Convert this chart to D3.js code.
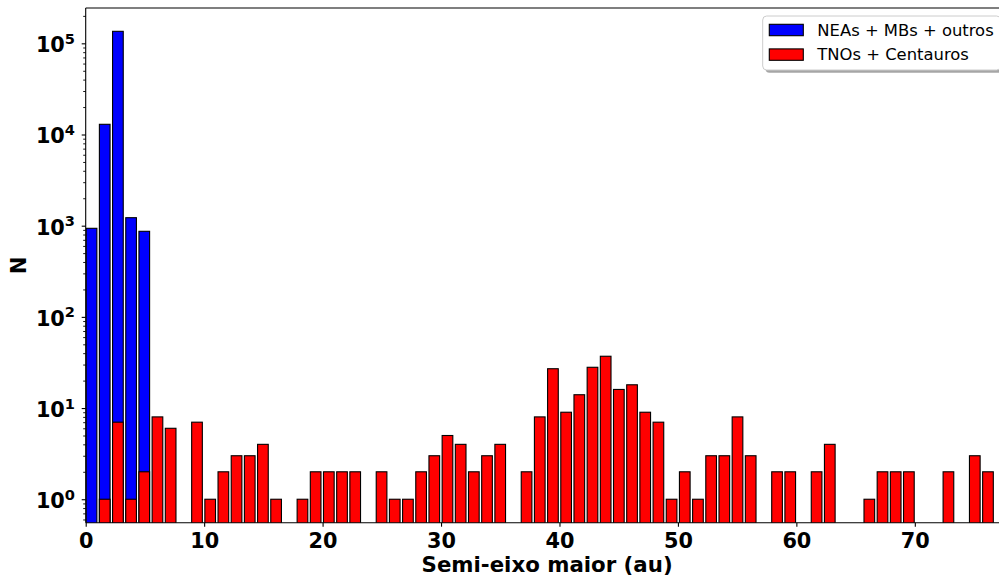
<!DOCTYPE html>
<html>
<head>
<meta charset="utf-8">
<script src="https://cdn.jsdelivr.net/npm/d3@7"></script>
<style>
  html, body { margin: 0; padding: 0; background: #fff; }
  svg { display: block; }
  text { font-family: "DejaVu Sans", sans-serif; }
</style>
</head>
<body>
<script>
// Histogram of semi-major axes, two populations, log-scaled counts.
const binWidth = 1.113;   // au per bin
const binCount = 70;

// NEAs + MBs + outros (bins 0..4, empty afterwards)
const neaCounts = [936, 12940, 135400, 1224, 868];

// TNOs + Centauros, one value per bin
const tnoCounts = [
  0, 1, 7, 1, 2, 8, 6, 0, 7, 1,
  2, 3, 3, 4, 1, 0, 1, 2, 2, 2,
  2, 0, 2, 1, 1, 2, 3, 5, 4, 2,
  3, 4, 0, 2, 8, 27, 9, 14, 28, 37,
  16, 18, 9, 7, 1, 2, 1, 3, 3, 8,
  3, 0, 2, 2, 0, 2, 4, 0, 0, 1,
  2, 2, 2, 0, 0, 2, 0, 3, 2, 0
];

const xTicks = [0, 10, 20, 30, 40, 50, 60, 70];
const yDecades = [0, 1, 2, 3, 4, 5];

const seriesNames = ["NEAs + MBs + outros", "TNOs + Centauros"];
const seriesColors = ["#0000ff", "#ff0000"];

const W = 999, H = 578;
const plot = { left: 85.7, right: 1008.5, top: 8, bottom: 522.7 };

const svg = d3.select("body").append("svg")
  .attr("width", W).attr("height", H);

const x = d3.scaleLinear()
  .domain([0, binWidth * binCount])
  .range([plot.left, plot.right]);

const y = d3.scaleLog()
  .domain([0.553, 2.44e5])
  .range([plot.bottom, plot.top]);

svg.append("defs").append("clipPath").attr("id", "plotclip")
  .append("rect")
  .attr("x", plot.left).attr("y", plot.top)
  .attr("width", plot.right - plot.left)
  .attr("height", plot.bottom - plot.top);

const bars = svg.append("g").attr("clip-path", "url(#plotclip)");

function drawSeries(counts, color) {
  const pitch = x(binWidth) - x(0);
  const data = counts.map((c, i) => ({ i, c })).filter(d => d.c > 0);
  bars.append("g").selectAll("rect")
    .data(data)
    .join("rect")
    .attr("x", d => x(d.i * binWidth) + 0.5)
    .attr("width", pitch * 0.81)
    .attr("y", d => y(d.c))
    .attr("height", d => plot.bottom + 5 - y(d.c))
    .attr("fill", color)
    .attr("stroke", "#000")
    .attr("stroke-width", 1.1);
}
drawSeries(neaCounts, seriesColors[0]);
drawSeries(tnoCounts, seriesColors[1]);

// spines
const spines = svg.append("g").attr("stroke", "#000").attr("stroke-width", 1.1);
spines.append("line").attr("x1", plot.left).attr("x2", plot.left)
  .attr("y1", plot.top).attr("y2", plot.bottom);
spines.append("line").attr("x1", plot.left).attr("x2", plot.right)
  .attr("y1", plot.bottom).attr("y2", plot.bottom);
spines.append("line").attr("x1", plot.left).attr("x2", plot.right)
  .attr("y1", plot.top).attr("y2", plot.top);
spines.append("line").attr("x1", plot.right).attr("x2", plot.right)
  .attr("y1", plot.top).attr("y2", plot.bottom);

// x axis
const xAxis = d3.axisBottom(x).tickValues(xTicks).tickSize(4).tickPadding(6)
  .tickFormat(d3.format("d"));
const gx = svg.append("g").attr("transform", `translate(0,${plot.bottom})`).call(xAxis);
gx.select(".domain").remove();
gx.selectAll(".tick line").attr("stroke", "#000").attr("stroke-width", 1.1);
gx.selectAll(".tick text")
  .attr("font-family", "DejaVu Sans").attr("font-weight", "bold")
  .attr("font-size", 20.8).attr("fill", "#000")
  .attr("dy", null).attr("y", 25.3);

// y axis: major decade ticks with 10^n labels, minor ticks at 2..9
const yMajor = yDecades.map(e => Math.pow(10, e));
const yMinor = [];
for (let e = -1; e <= 5; e++) {
  for (let m = 2; m <= 9; m++) {
    const v = m * Math.pow(10, e);
    if (v >= y.domain()[0] && v <= y.domain()[1]) yMinor.push(v);
  }
}
const gyMinor = svg.append("g").attr("transform", `translate(${plot.left},0)`)
  .call(d3.axisLeft(y).tickValues(yMinor).tickSize(2.5).tickFormat(""));
gyMinor.select(".domain").remove();
gyMinor.selectAll(".tick line").attr("stroke", "#000").attr("stroke-width", 0.9);

const gy = svg.append("g").attr("transform", `translate(${plot.left},0)`)
  .call(d3.axisLeft(y).tickValues(yMajor).tickSize(4).tickFormat(""));
gy.select(".domain").remove();
gy.selectAll(".tick line").attr("stroke", "#000").attr("stroke-width", 1.1);
gy.selectAll(".tick").each(function (d) {
  const t = d3.select(this).append("text")
    .attr("x", -10.7).attr("y", 8.4)
    .attr("text-anchor", "end")
    .attr("font-family", "DejaVu Sans").attr("font-weight", "bold")
    .attr("font-size", 20.8).attr("fill", "#000");
  t.append("tspan").text("10");
  t.append("tspan").attr("dy", -8.4).attr("font-size", 14.6)
    .text(String(Math.round(Math.log10(d))));
});

// axis labels
svg.append("text")
  .attr("x", (plot.left + plot.right) / 2).attr("y", 571.5)
  .attr("text-anchor", "middle")
  .attr("font-weight", "bold").attr("font-size", 21.3)
  .text("Semi-eixo maior (au)");

svg.append("text")
  .attr("transform", `translate(26.3,${(plot.top + plot.bottom) / 2}) rotate(-90)`)
  .attr("text-anchor", "middle")
  .attr("font-weight", "bold").attr("font-size", 21.3)
  .text("N");

// legend
const lg = svg.append("g");
const box = { x: 762.7, y: 16, w: 238, h: 54 };
lg.append("rect")
  .attr("x", box.x + 2.8).attr("y", box.y + 2.8)
  .attr("width", box.w).attr("height", box.h).attr("rx", 4)
  .attr("fill", "#000").attr("fill-opacity", 0.35);
lg.append("rect")
  .attr("x", box.x).attr("y", box.y)
  .attr("width", box.w).attr("height", box.h).attr("rx", 4)
  .attr("fill", "#fff").attr("stroke", "#cccccc").attr("stroke-width", 1);
seriesNames.forEach((name, i) => {
  const rowY = 24.3 + i * 24.6;
  lg.append("rect")
    .attr("x", 769.3).attr("y", rowY)
    .attr("width", 34).attr("height", 11.4)
    .attr("fill", seriesColors[i]).attr("stroke", "#000").attr("stroke-width", 1.1);
  lg.append("text")
    .attr("x", 817.3).attr("y", rowY + 11.4)
    .attr("font-size", 16.4).attr("fill", "#000")
    .text(name);
});
</script>
</body>
</html>
